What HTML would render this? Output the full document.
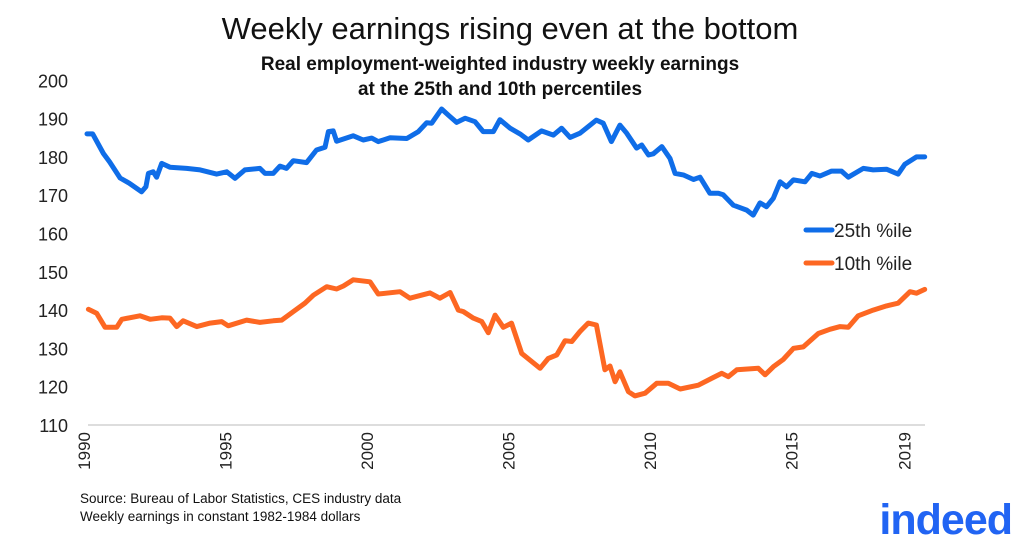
<!DOCTYPE html>
<html><head><meta charset="utf-8"><style>
body{margin:0;background:#fff;}
svg{display:block;font-family:"Liberation Sans",Arial,sans-serif;}
</style></head><body>
<svg id="chart" width="1024" height="555" viewBox="0 0 1024 555">
<rect width="1024" height="555" fill="#fff"/>
<text x="510" y="39" text-anchor="middle" font-size="31" fill="#111">Weekly earnings rising even at the bottom</text>
<text x="500" y="70" text-anchor="middle" font-size="19" font-weight="bold" fill="#111">Real employment-weighted industry weekly earnings</text>
<text x="500" y="95" text-anchor="middle" font-size="19" font-weight="bold" fill="#111">at the 25th and 10th percentiles</text>
<line x1="88" y1="425" x2="925" y2="425" stroke="#ddd" stroke-width="2"/>
<g id="yticks"></g><g id="xticks"></g><g id="lines"></g>
<line x1="806" y1="230" x2="832" y2="230" stroke="#0f6de8" stroke-width="5" stroke-linecap="round"/>
<text x="834" y="237" font-size="19" fill="#222">25th %ile</text>
<line x1="806" y1="263" x2="832" y2="263" stroke="#fd6722" stroke-width="5" stroke-linecap="round"/>
<text x="834" y="270" font-size="19" fill="#222">10th %ile</text>
<text x="80" y="503" font-size="13.5" fill="#111">Source: Bureau of Labor Statistics, CES industry data</text>
<text x="80" y="521" font-size="13.5" fill="#111">Weekly earnings in constant 1982-1984 dollars</text>
<text x="1012" y="534" text-anchor="end" font-size="43" font-weight="bold" fill="#2164f3" letter-spacing="-1">indeed</text>
</svg>
<script>
const yTicks=[110,120,130,140,150,160,170,180,190,200];
const xTicks=[1990,1995,2000,2005,2010,2015,2019];
const yearsBlue=[1990.0,1990.2,1990.58,1990.8,1991.17,1991.5,1991.93,1992.08,1992.17,1992.34,1992.46,1992.64,1992.93,1993.52,1994.0,1994.58,1994.94,1995.23,1995.58,1996.11,1996.29,1996.58,1996.82,1997.05,1997.29,1997.76,1998.11,1998.41,1998.53,1998.7,1998.82,1999.41,1999.76,2000.06,2000.29,2000.71,2001.3,2001.71,2002.0,2002.18,2002.53,2002.77,2003.06,2003.36,2003.71,2004.0,2004.36,2004.59,2004.95,2005.3,2005.59,2006.06,2006.48,2006.77,2007.07,2007.42,2008.0,2008.24,2008.53,2008.83,2009.07,2009.42,2009.6,2009.84,2010.01,2010.31,2010.6,2010.78,2011.07,2011.43,2011.66,2012.01,2012.31,2012.48,2012.84,2013.31,2013.54,2013.78,2014.01,2014.25,2014.49,2014.72,2014.96,2015.37,2015.61,2015.9,2016.31,2016.66,2016.9,2017.43,2017.78,2018.25,2018.66,2018.9,2019.31,2019.6];
const p25=[186.0,186.0,180.9,178.7,174.5,173.1,170.9,172.2,175.7,176.1,174.7,178.3,177.3,177.0,176.6,175.5,176.1,174.4,176.6,177.0,175.7,175.7,177.6,177.0,179.0,178.5,181.8,182.5,186.6,186.8,184.1,185.5,184.4,184.9,184.0,185.0,184.8,186.6,188.9,188.8,192.5,190.9,189.0,190.1,189.2,186.6,186.6,189.7,187.5,186.0,184.4,186.8,185.7,187.5,185.1,186.2,189.6,188.8,184.0,188.3,186.2,182.3,183.1,180.5,180.8,182.7,179.6,175.7,175.3,174.1,174.7,170.5,170.5,170.1,167.4,166.1,164.8,168.0,167.0,169.2,173.5,172.2,174.0,173.5,175.7,175.0,176.3,176.3,174.7,177.0,176.6,176.8,175.5,178.1,180.0,180.0];
const yearsOrange=[1990.05,1990.34,1990.64,1991.05,1991.23,1991.87,1992.23,1992.64,1992.93,1993.17,1993.4,1993.88,1994.35,1994.76,1994.99,1995.64,1996.11,1996.58,1996.88,1997.29,1997.7,1998.0,1998.47,1998.82,1999.06,1999.41,2000.0,2000.29,2001.06,2001.41,2002.12,2002.47,2002.83,2003.12,2003.3,2003.65,2003.95,2004.18,2004.42,2004.71,2005.0,2005.36,2006.01,2006.3,2006.6,2006.89,2007.13,2007.42,2007.71,2008.0,2008.3,2008.48,2008.66,2008.83,2009.13,2009.36,2009.72,2010.13,2010.54,2010.96,2011.6,2012.13,2012.43,2012.66,2012.96,2013.72,2013.96,2014.25,2014.6,2014.96,2015.31,2015.84,2016.25,2016.61,2016.9,2017.25,2017.78,2018.25,2018.66,2019.08,2019.31,2019.6];
const p10=[140.2,139.2,135.5,135.5,137.6,138.5,137.6,138.0,137.9,135.7,137.2,135.7,136.6,137.0,135.9,137.4,136.8,137.2,137.4,139.6,141.8,143.9,146.1,145.5,146.3,147.9,147.4,144.2,144.8,143.1,144.5,143.1,144.6,140.0,139.6,137.9,137.0,134.1,138.7,135.5,136.6,128.7,124.8,127.4,128.3,132.0,131.8,134.4,136.6,136.1,124.4,125.4,121.3,123.9,118.7,117.6,118.3,120.9,120.9,119.4,120.4,122.4,123.5,122.6,124.4,124.8,123.1,125.2,127.1,130.0,130.4,133.9,135.0,135.7,135.5,138.5,140.0,141.1,141.8,144.8,144.4,145.4];

const NS='http://www.w3.org/2000/svg';
const xS=y=>87+(y-1990)*28.3;
const yS=v=>425-(v-110)*3.83;
function mk(tag,attrs,parent){const e=document.createElementNS(NS,tag);for(const k in attrs)e.setAttribute(k,attrs[k]);parent.appendChild(e);return e;}
const yg=document.getElementById('yticks');
yTicks.forEach(v=>{
  const t=mk('text',{x:68,y:yS(v)+7,'text-anchor':'end','font-size':18,fill:'#222'},yg);
  
  
  t.textContent=v;
});
const xg=document.getElementById('xticks');
xTicks.forEach(v=>{
  const x=xS(v)+3,y=432;
  const t=mk('text',{x:x,y:y,'text-anchor':'end','font-size':17,fill:'#222',transform:`rotate(-90 ${x} ${y})`},xg);
  
  
  t.textContent=v;
});
const lg=document.getElementById('lines');
function line(xs,vs,color,name){
  const d=xs.map((x,i)=>(i?'L':'M')+xS(x).toFixed(1)+' '+yS(vs[i]).toFixed(1)).join(' ');
  const p=mk('path',{d:d,fill:'none',stroke:color,'stroke-width':5,'stroke-linejoin':'round','stroke-linecap':'round'},lg);
  
  
}
line(yearsBlue,p25,'#0f6de8','line-25th-percentile');
line(yearsOrange,p10,'#fd6722','line-10th-percentile');
</script>
</body></html>
